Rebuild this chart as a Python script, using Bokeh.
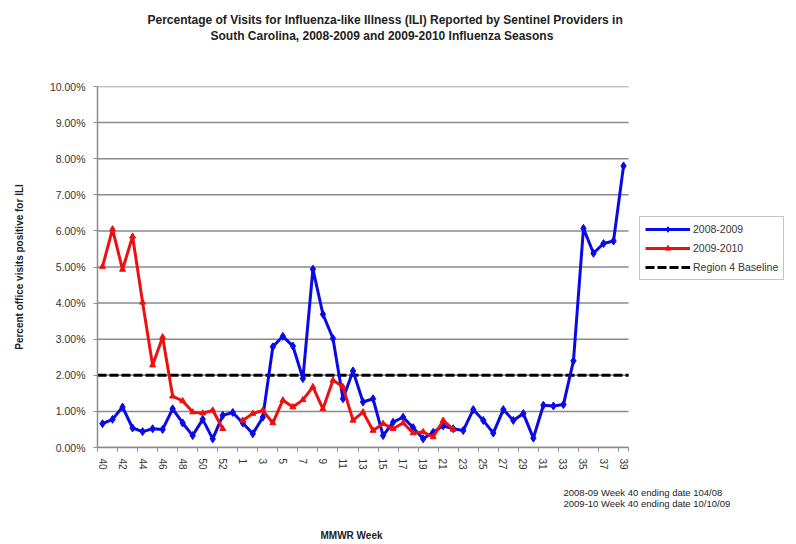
import math
from bokeh.plotting import figure
from bokeh.models import (FixedTicker, PrintfTickFormatter, Range1d, Legend, LegendItem,
                          Title, ColumnDataSource)
from bokeh.embed import file_html
from bokeh.resources import INLINE

# ---------------- data ----------------
weeks = [40, 41, 42, 43, 44, 45, 46, 47, 48, 49, 50, 51, 52, 53,
         1, 2, 3, 4, 5, 6, 7, 8, 9, 10, 11, 12, 13, 14, 15, 16, 17, 18, 19, 20,
         21, 22, 23, 24, 25, 26, 27, 28, 29, 30, 31, 32, 33, 34, 35, 36, 37, 38, 39]

y_ticks = [0, 1, 2, 3, 4, 5, 6, 7, 8, 9, 10]

ili_2008_09 = [0.66, 0.78, 1.12, 0.54, 0.44, 0.52, 0.50, 1.07, 0.68, 0.33, 0.78, 0.24, 0.89, 0.97,
               0.68, 0.38, 0.84, 2.79, 3.08, 2.81, 1.91, 4.94, 3.69, 3.02, 1.35, 2.12, 1.26, 1.35,
               0.33, 0.70, 0.84, 0.55, 0.24, 0.42, 0.60, 0.52, 0.47, 1.05, 0.75, 0.40, 1.05, 0.75,
               0.94, 0.26, 1.17, 1.15, 1.19, 2.40, 6.07, 5.38, 5.65, 5.72, 7.80]

ili_2009_10 = [5.01, 6.05, 4.93, 5.85, 4.02, 2.28, 3.06, 1.42, 1.29, 0.98, 0.95, 1.03, 0.52, None,
               0.75, 0.94, 1.03, 0.68, 1.31, 1.12, 1.32, 1.68, 1.07, 1.86, 1.68, 0.75, 0.98, 0.47,
               0.66, 0.52, 0.68, 0.40, 0.43, 0.29, 0.75, 0.50]

baseline = 2.0

title_lines = ["Percentage of Visits for Influenza-like Illness (ILI) Reported by Sentinel Providers in",
               "South Carolina, 2008-2009 and 2009-2010 Influenza Seasons"]
foot_lines = ["2008-09 Week 40 ending date 104/08",
              "2009-10 Week 40 ending date 10/10/09"]
x_label = "MMWR Week"
y_label = "Percent office visits positive for ILI"

# ---------------- style / layout ----------------
FONT = "Liberation Sans"
BLUE = "#0a0ae6"
RED = "#ee1010"
GRID = "#8a8a8a"
TXT = "#222222"

W, H = 796, 544
FRAME_L, FRAME_R = 97, 790          # frame spans to the right so the legend can sit in it
CAT_PX = 10.02                      # pixel width of one week category
n = len(weeks)
x_idx = list(range(n))
x_lo = -0.5
x_hi = x_lo + (FRAME_R - FRAME_L) / CAT_PX
cat_lo, cat_hi = -0.5, n - 0.5

p = figure(width=W, height=H, output_backend="svg", toolbar_location=None, title=None,
           x_range=Range1d(x_lo, x_hi), y_range=Range1d(y_ticks[0], y_ticks[-1]),
           min_border_left=FRAME_L, min_border_right=W - FRAME_R,
           min_border_top=86, min_border_bottom=97)
p.outline_line_color = None
p.background_fill_color = "white"
p.border_fill_color = "white"

# grid (drawn only across the category span)
p.xgrid.grid_line_color = None
p.ygrid.grid_line_color = None
p.segment(x0=[cat_lo] * len(y_ticks), x1=[cat_hi] * len(y_ticks), y0=y_ticks, y1=y_ticks,
          line_color=GRID, line_width=1.5)

# y axis
p.yaxis.ticker = FixedTicker(ticks=y_ticks)
p.yaxis.formatter = PrintfTickFormatter(format="%.2f%%")
p.yaxis.axis_line_color = GRID
p.yaxis.axis_line_width = 1.5
p.yaxis.major_tick_line_color = GRID
p.yaxis.major_tick_out = 4
p.yaxis.major_tick_in = 0
p.yaxis.minor_tick_line_color = None
p.yaxis.major_label_text_font = FONT
p.yaxis.major_label_text_font_size = "10.5px"
p.yaxis.major_label_text_color = "#333333"
p.yaxis.major_label_standoff = 8
p.yaxis.axis_label = y_label
p.yaxis.axis_label_text_font = FONT
p.yaxis.axis_label_text_font_style = "bold"
p.yaxis.axis_label_text_font_size = "10px"
p.yaxis.axis_label_text_color = TXT
p.yaxis.axis_label_standoff = 22

# x axis
label_ticks = x_idx[::2]
bounds = [i - 0.5 for i in label_ticks] + [x_idx[-1] + 0.5]
p.xaxis.bounds = (cat_lo, cat_hi)
p.xaxis.ticker = FixedTicker(ticks=label_ticks, minor_ticks=bounds)
p.xaxis.major_label_overrides = {i: str(weeks[i]) for i in label_ticks}
p.xaxis.major_label_orientation = -math.pi / 2
p.xaxis.axis_line_color = GRID
p.xaxis.axis_line_width = 1.5
p.xaxis.major_tick_line_color = None
p.xaxis.major_tick_out = 0
p.xaxis.major_tick_in = 0
p.xaxis.minor_tick_line_color = GRID
p.xaxis.minor_tick_out = 4
p.xaxis.minor_tick_in = 0
p.xaxis.major_label_text_font = FONT
p.xaxis.major_label_text_font_size = "10px"
p.xaxis.major_label_text_color = "#333333"
p.xaxis.major_label_standoff = 7

# baseline
base_line = p.line(x=[cat_lo, cat_hi], y=[baseline, baseline], line_color="black",
                   line_width=3, line_dash="9 3")

# series
src_a = ColumnDataSource(dict(x=x_idx, y=ili_2008_09))
src_b = ColumnDataSource(dict(x=x_idx[:len(ili_2009_10)],
                              y=[float("nan") if v is None else v for v in ili_2009_10]))

la = p.line("x", "y", source=src_a, line_color=BLUE, line_width=3)
ma = p.scatter("x", "y", source=src_a, marker="diamond", size=8, color=BLUE)
lb = p.line("x", "y", source=src_b, line_color=RED, line_width=3)
mb = p.scatter("x", "y", source=src_b, marker="triangle", size=6, color=RED)

legend = Legend(items=[LegendItem(label="2008-2009", renderers=[la, ma]),
                       LegendItem(label="2009-2010", renderers=[lb, mb]),
                       LegendItem(label="Region 4 Baseline", renderers=[base_line])],
                location=(542, 167))
legend.border_line_color = "#888888"
legend.border_line_width = 1
legend.background_fill_color = "white"
legend.background_fill_alpha = 1
legend.label_text_font = FONT
legend.label_text_font_size = "10.5px"
legend.label_text_color = "#333333"
legend.glyph_width = 45
legend.glyph_height = 14
legend.label_height = 14
legend.label_standoff = 3
legend.spacing = 5
legend.padding = 5
legend.margin = 0
p.add_layout(legend, "center")

# above: spacer, then title line 2, then title line 1 (first added sits closest to the plot)
p.add_layout(Title(text=" ", standoff=28, text_font=FONT, text_font_size="12px"), "above")
p.add_layout(Title(text=title_lines[1], align="left", offset=113, standoff=0,
                   text_font=FONT, text_font_style="bold", text_font_size="12px",
                   text_color=TXT), "above")
p.add_layout(Title(text=title_lines[0], align="left", offset=50, standoff=0,
                   text_font=FONT, text_font_style="bold", text_font_size="12px",
                   text_color=TXT), "above")

# below: footnote block, then the x axis title
p.add_layout(Title(text="\n".join(foot_lines), align="left", offset=466, standoff=26,
                   vertical_align="middle", text_line_height=1.05,
                   text_font=FONT, text_font_style="normal", text_font_size="9.5px",
                   text_color=TXT), "below")
p.add_layout(Title(text=x_label, align="left", offset=223, standoff=8,
                   text_font=FONT, text_font_style="bold", text_font_size="10px",
                   text_color=TXT), "below")

open("out.html", "w").write(file_html(p, INLINE))
